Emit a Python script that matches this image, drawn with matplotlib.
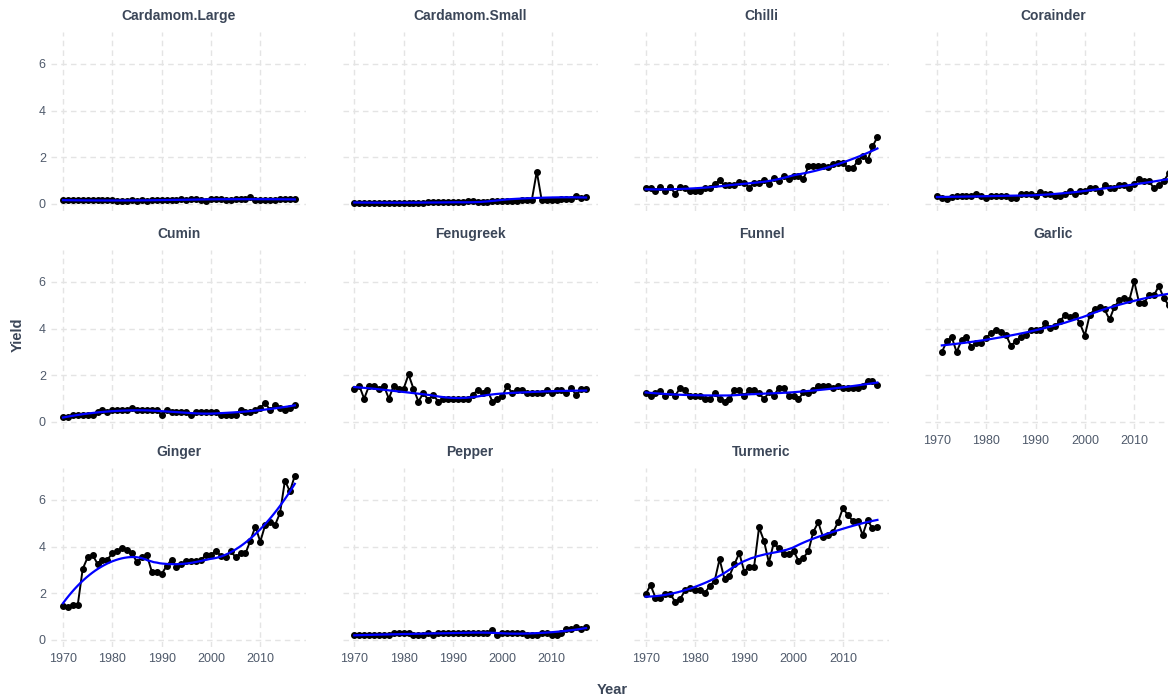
import numpy as np
import matplotlib.pyplot as plt

plt.rcParams['font.family'] = ['Liberation Sans', 'DejaVu Sans']

years = np.arange(1970, 2018)

cardamom_large = [0.15, 0.15, 0.15, 0.15, 0.15, 0.15, 0.15, 0.15, 0.15, 0.15,
                  0.15, 0.12, 0.12, 0.14, 0.16, 0.14, 0.15, 0.13, 0.16, 0.15,
                  0.18, 0.15, 0.15, 0.15, 0.20, 0.17, 0.20, 0.20, 0.18, 0.14,
                  0.20, 0.20, 0.20, 0.18, 0.17, 0.20, 0.22, 0.22, 0.28, 0.17,
                  0.16, 0.16, 0.16, 0.18, 0.20, 0.20, 0.20, 0.20]
cardamom_small = [0.05, 0.05, 0.05, 0.05, 0.05, 0.05, 0.05, 0.05, 0.05, 0.05,
                  0.05, 0.05, 0.05, 0.05, 0.04, 0.06, 0.06, 0.06, 0.06, 0.06,
                  0.06, 0.06, 0.06, 0.10, 0.10, 0.08, 0.08, 0.09, 0.10, 0.12,
                  0.13, 0.13, 0.14, 0.14, 0.16, 0.17, 0.17, 1.38, 0.15, 0.15,
                  0.15, 0.17, 0.20, 0.22, 0.22, 0.35, 0.25, 0.30]
chilli = [0.69, 0.69, 0.53, 0.71, 0.53, 0.71, 0.43, 0.71, 0.69, 0.53,
          0.53, 0.53, 0.69, 0.69, 0.86, 1.00, 0.79, 0.79, 0.81, 0.93,
          0.90, 0.69, 0.89, 0.89, 1.00, 0.86, 1.11, 0.96, 1.21, 1.07,
          1.21, 1.19, 1.07, 1.60, 1.60, 1.60, 1.60, 1.57, 1.71, 1.76,
          1.76, 1.53, 1.53, 1.83, 2.07, 1.86, 2.46, 2.86]
corainder = [0.32, 0.25, 0.22, 0.28, 0.35, 0.32, 0.32, 0.35, 0.44, 0.32,
             0.25, 0.35, 0.35, 0.35, 0.35, 0.25, 0.25, 0.42, 0.42, 0.42,
             0.32, 0.51, 0.42, 0.42, 0.32, 0.32, 0.42, 0.54, 0.42, 0.54,
             0.54, 0.69, 0.69, 0.51, 0.80, 0.66, 0.66, 0.80, 0.80, 0.69,
             0.86, 1.05, 0.98, 0.98, 0.66, 0.80, 0.98, 1.30]
cumin = [0.20, 0.20, 0.30, 0.30, 0.30, 0.30, 0.30, 0.40, 0.50, 0.40,
         0.50, 0.50, 0.50, 0.50, 0.60, 0.50, 0.50, 0.50, 0.50, 0.50,
         0.30, 0.50, 0.40, 0.40, 0.40, 0.40, 0.30, 0.40, 0.40, 0.40,
         0.40, 0.40, 0.30, 0.30, 0.30, 0.30, 0.50, 0.40, 0.40, 0.50,
         0.60, 0.80, 0.50, 0.70, 0.60, 0.50, 0.60, 0.70]
fenugreek = [1.42, 1.55, 0.99, 1.55, 1.55, 1.42, 1.55, 0.99, 1.55, 1.42,
             1.42, 2.03, 1.42, 0.87, 1.23, 0.94, 1.16, 0.87, 0.97, 0.97,
             0.97, 0.97, 0.97, 0.97, 1.16, 1.35, 1.23, 1.35, 0.87, 0.97,
             1.09, 1.55, 1.23, 1.35, 1.35, 1.23, 1.23, 1.23, 1.23, 1.35,
             1.23, 1.35, 1.35, 1.23, 1.45, 1.13, 1.42, 1.42]
funnel = [1.23, 1.09, 1.23, 1.33, 1.09, 1.26, 1.12, 1.45, 1.35, 1.12,
          1.12, 1.12, 0.97, 0.97, 1.23, 0.97, 0.86, 0.97, 1.35, 1.35,
          1.12, 1.35, 1.35, 1.23, 0.97, 1.26, 1.12, 1.45, 1.45, 1.12,
          1.12, 0.97, 1.26, 1.23, 1.35, 1.55, 1.55, 1.55, 1.45, 1.55,
          1.45, 1.45, 1.45, 1.45, 1.55, 1.74, 1.74, 1.59]
garlic_years = np.arange(1971, 2018)
garlic = [2.99, 3.45, 3.64, 2.99, 3.50, 3.64, 3.19, 3.38, 3.38, 3.60,
          3.81, 3.96, 3.84, 3.73, 3.27, 3.45, 3.64, 3.73, 3.93, 3.93,
          3.93, 4.22, 4.03, 4.13, 4.32, 4.60, 4.50, 4.60, 4.22, 3.70,
          4.60, 4.82, 4.94, 4.82, 4.39, 4.94, 5.21, 5.32, 5.21, 6.03,
          5.11, 5.11, 5.42, 5.42, 5.83, 5.30, 5.00]
ginger = [1.44, 1.40, 1.51, 1.51, 3.04, 3.54, 3.64, 3.26, 3.44, 3.44,
          3.71, 3.81, 3.93, 3.86, 3.71, 3.33, 3.54, 3.64, 2.93, 2.93,
          2.83, 3.16, 3.44, 3.14, 3.26, 3.36, 3.36, 3.36, 3.44, 3.64,
          3.64, 3.81, 3.61, 3.54, 3.81, 3.54, 3.71, 3.71, 4.26, 4.86,
          4.21, 4.93, 5.04, 4.93, 5.44, 6.83, 6.37, 7.04]
pepper = [0.20, 0.20, 0.20, 0.20, 0.20, 0.20, 0.20, 0.20, 0.30, 0.30,
          0.30, 0.30, 0.20, 0.20, 0.20, 0.30, 0.20, 0.30, 0.30, 0.30,
          0.30, 0.30, 0.30, 0.30, 0.30, 0.30, 0.30, 0.30, 0.40, 0.20,
          0.30, 0.30, 0.30, 0.30, 0.30, 0.20, 0.20, 0.20, 0.30, 0.30,
          0.20, 0.20, 0.30, 0.45, 0.45, 0.55, 0.45, 0.55]
turmeric = [1.95, 2.35, 1.81, 1.81, 1.95, 1.95, 1.64, 1.74, 2.12, 2.24,
            2.12, 2.12, 2.00, 2.31, 2.53, 3.46, 2.60, 2.74, 3.24, 3.72,
            2.93, 3.14, 3.14, 4.82, 4.25, 3.31, 4.17, 3.92, 3.67, 3.67,
            3.82, 3.39, 3.53, 3.79, 4.63, 5.04, 4.39, 4.49, 4.61, 5.04,
            5.65, 5.35, 5.11, 5.11, 4.49, 5.14, 4.78, 4.82]

crops = ['Cardamom.Large', 'Cardamom.Small', 'Chilli', 'Corainder', 'Cumin',
         'Fenugreek', 'Funnel', 'Garlic', 'Ginger', 'Pepper', 'Turmeric']
series = [(years, cardamom_large), (years, cardamom_small), (years, chilli),
          (years, corainder), (years, cumin), (years, fenugreek), (years, funnel),
          (garlic_years, garlic), (years, ginger), (years, pepper), (years, turmeric)]


def loess(x, y, span=0.75, n=80):
    # local quadratic fit with tricube weights, like R's loess defaults
    x = np.asarray(x, float)
    y = np.asarray(y, float)
    q = int(np.ceil(span * len(x)))
    xs = np.linspace(x.min(), x.max(), n)
    ys = []
    for x0 in xs:
        d = np.abs(x - x0)
        h = np.sort(d)[q - 1]
        w = np.clip(1 - (d / h) ** 3, 0, None) ** 3
        A = np.vstack([np.ones_like(x), x - x0, (x - x0) ** 2]).T
        W = np.sqrt(w)
        coef = np.linalg.lstsq(A * W[:, None], y * W, rcond=None)[0]
        ys.append(coef[0])
    return xs, np.array(ys)


title_col = '#3b4658'
tick_col = '#4f5a6b'
grid_col = '#e4e4e4'

allx = np.concatenate([np.asarray(s[0], float) for s in series])
ally = np.concatenate([np.asarray(s[1], float) for s in series])
xpad = 0.05 * (allx.max() - allx.min())
ypad = 0.05 * (ally.max() - ally.min())
xlim = (allx.min() - xpad, allx.max() + xpad)
ylim = (ally.min() - ypad, ally.max() + ypad)

W, H = 1168, 698
fig = plt.figure(figsize=(W / 100, H / 100), dpi=100)
lefts = [51.4, 342.7, 634.0, 925.3]
tops = [31.6, 249.6, 467.6]
pw, ph = 255, 179.4

for i, (name, (xx, yy)) in enumerate(zip(crops, series)):
    r, c = divmod(i, 4)
    ax = fig.add_axes([lefts[c] / W, 1 - (tops[r] + ph) / H, pw / W, ph / H])
    ax.set_xlim(xlim)
    ax.set_ylim(ylim)
    ax.set_xticks([1970, 1980, 1990, 2000, 2010])
    ax.set_yticks([0, 2, 4, 6])
    ax.grid(True, color=grid_col, linestyle=(0, (4, 3)), linewidth=1.0)
    ax.set_axisbelow(True)
    for sp in ax.spines.values():
        sp.set_visible(False)
    ax.tick_params(length=0, colors=tick_col, labelsize=9, pad=4)
    bottom = (r == 2) or (r == 1 and c == 3)
    if not bottom:
        ax.tick_params(labelbottom=False)
    if c != 0:
        ax.tick_params(labelleft=False)
    ax.plot(xx, yy, color='black', linewidth=1.4, zorder=2)
    ax.scatter(xx, yy, color='black', s=16, zorder=3)
    sx, sy = loess(xx, yy)
    ax.plot(sx, sy, color='#0000ff', linewidth=1.6, zorder=4)
    ax.set_title(name, fontsize=10, fontweight='bold', color=title_col, pad=8)

fig.text(612 / W, 1 - 690 / H, 'Year', ha='center', va='center',
         fontsize=10.5, fontweight='bold', color=title_col)
fig.text(18 / W, 1 - 335 / H, 'Yield', ha='center', va='center', rotation=90,
         fontsize=10.5, fontweight='bold', color=title_col)

fig.savefig('out.png', dpi=100)
